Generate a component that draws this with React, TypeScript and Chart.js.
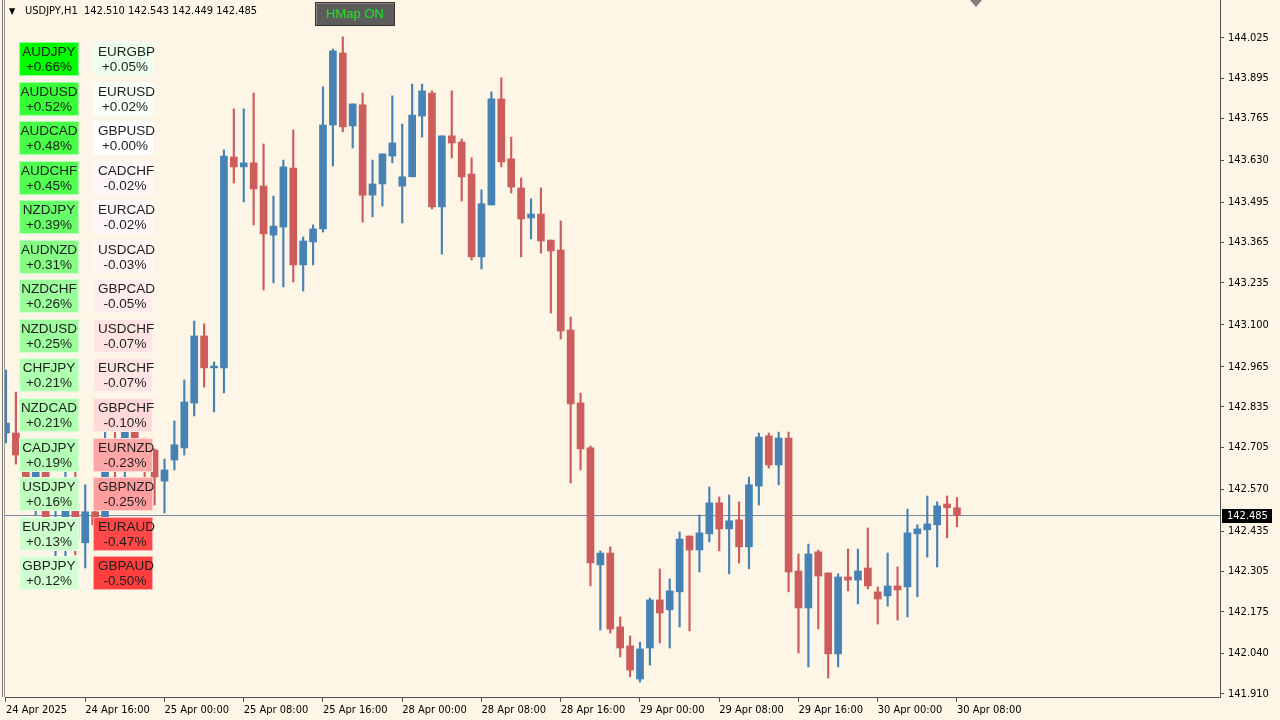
import React, { useEffect, useRef } from "react";
import { Chart, registerables } from "chart.js";

Chart.register(...registerables);

// ---------- data ----------
const symbolTitle = "USDJPY,H1";
const headerOHLC = "142.510 142.543 142.449 142.485";

const timeTickLabels = [
  "24 Apr 2025", "24 Apr 16:00", "25 Apr 00:00", "25 Apr 08:00", "25 Apr 16:00",
  "28 Apr 00:00", "28 Apr 08:00", "28 Apr 16:00", "29 Apr 00:00", "29 Apr 08:00",
  "29 Apr 16:00", "30 Apr 00:00", "30 Apr 08:00",
];
const timeTickBars = [0, 8, 16, 24, 32, 40, 48, 56, 64, 72, 80, 88, 96];

const priceTicks = [
  144.025, 143.895, 143.765, 143.63, 143.495, 143.365, 143.235, 143.1, 142.965,
  142.835, 142.705, 142.57, 142.435, 142.305, 142.175, 142.04, 141.91,
];

const opens = [
  142.751, 142.751, 142.680, 142.606, 142.645, 142.432, 142.439, 142.519, 142.397, 142.497,
  142.455, 142.713, 142.664, 142.777, 142.713, 142.696, 142.596, 142.664, 142.703, 142.848,
  143.064, 142.961, 142.961, 143.641, 143.609, 143.622, 143.547, 143.389, 143.415, 143.605,
  143.293, 143.367, 143.409, 143.744, 143.976, 143.741, 143.809, 143.518, 143.554, 143.644,
  143.547, 143.577, 143.773, 143.847, 143.480, 143.709, 143.689, 143.586, 143.319, 143.486,
  143.828, 143.635, 143.541, 143.444, 143.457, 143.373, 143.341, 143.083, 142.848, 142.703,
  142.326, 142.364, 142.126, 142.065, 141.958, 142.058, 142.213, 142.181, 142.239, 142.419,
  142.374, 142.426, 142.526, 142.442, 142.471, 142.384, 142.580, 142.742, 142.648, 142.735,
  142.306, 142.187, 142.368, 142.300, 142.039, 142.287, 142.277, 142.316, 142.239, 142.226,
  142.258, 142.255, 142.426, 142.439, 142.455, 142.522, 142.510,
];
const highs = [
  142.954, 142.883, 142.696, 142.664, 142.671, 142.510, 142.632, 142.638, 142.584, 142.551,
  142.767, 142.777, 142.809, 142.825, 142.735, 142.700, 142.667, 142.790, 142.922, 143.112,
  143.103, 142.980, 143.664, 143.796, 143.796, 143.847, 143.683, 143.515, 143.631, 143.728,
  143.383, 143.422, 143.867, 143.989, 144.028, 143.812, 143.847, 143.631, 143.651, 143.838,
  143.747, 143.876, 143.876, 143.854, 143.709, 143.854, 143.699, 143.638, 143.535, 143.851,
  143.896, 143.705, 143.573, 143.506, 143.541, 143.373, 143.435, 143.125, 142.880, 142.709,
  142.371, 142.384, 142.158, 142.097, 142.077, 142.219, 142.313, 142.281, 142.432, 142.419,
  142.487, 142.577, 142.545, 142.551, 142.529, 142.609, 142.751, 142.751, 142.754, 142.754,
  142.361, 142.393, 142.374, 142.300, 142.297, 142.377, 142.377, 142.445, 142.255, 142.364,
  142.319, 142.506, 142.455, 142.548, 142.529, 142.548, 142.543,
];
const lows = [
  142.719, 142.651, 142.584, 142.487, 142.445, 142.355, 142.355, 142.358, 142.316, 142.422,
  142.439, 142.606, 142.600, 142.680, 142.606, 142.519, 142.493, 142.632, 142.680, 142.806,
  142.899, 142.819, 142.880, 143.557, 143.496, 143.422, 143.212, 143.235, 143.222, 143.238,
  143.209, 143.293, 143.399, 143.612, 143.722, 143.670, 143.431, 143.448, 143.483, 143.622,
  143.428, 143.577, 143.705, 143.473, 143.328, 143.638, 143.499, 143.309, 143.280, 143.486,
  143.609, 143.525, 143.319, 143.377, 143.331, 143.138, 143.054, 142.590, 142.632, 142.258,
  142.116, 142.106, 142.029, 141.965, 141.948, 142.003, 142.074, 142.058, 142.126, 142.113,
  142.303, 142.400, 142.371, 142.297, 142.332, 142.313, 142.519, 142.638, 142.584, 142.239,
  142.042, 141.997, 142.119, 141.961, 141.997, 142.242, 142.200, 142.248, 142.135, 142.193,
  142.148, 142.158, 142.223, 142.351, 142.319, 142.413, 142.449,
];
const closes = [
  142.783, 142.680, 142.606, 142.645, 142.471, 142.477, 142.519, 142.406, 142.497, 142.455,
  142.713, 142.664, 142.777, 142.713, 142.696, 142.609, 142.632, 142.713, 142.851, 143.064,
  142.961, 142.967, 143.644, 143.609, 143.622, 143.538, 143.393, 143.418, 143.609, 143.293,
  143.370, 143.409, 143.744, 143.983, 143.738, 143.812, 143.518, 143.554, 143.651, 143.686,
  143.577, 143.776, 143.854, 143.480, 143.709, 143.686, 143.577, 143.319, 143.490, 143.828,
  143.625, 143.544, 143.441, 143.457, 143.370, 143.338, 143.080, 142.845, 142.700, 142.332,
  142.364, 142.119, 142.058, 141.987, 142.055, 142.213, 142.171, 142.242, 142.409, 142.374,
  142.429, 142.526, 142.442, 142.468, 142.384, 142.584, 142.738, 142.648, 142.735, 142.303,
  142.187, 142.361, 142.290, 142.039, 142.287, 142.277, 142.306, 142.258, 142.216, 142.258,
  142.245, 142.429, 142.442, 142.458, 142.516, 142.510, 142.485,
];

const heatLeftNames = [
  "AUDJPY", "AUDUSD", "AUDCAD", "AUDCHF", "NZDJPY", "AUDNZD", "NZDCHF",
  "NZDUSD", "CHFJPY", "NZDCAD", "CADJPY", "USDJPY", "EURJPY", "GBPJPY",
];
const heatLeftPct = [0.66, 0.52, 0.48, 0.45, 0.39, 0.31, 0.26, 0.25, 0.21, 0.21, 0.19, 0.16, 0.13, 0.12];
const heatRightNames = [
  "EURGBP", "EURUSD", "GBPUSD", "CADCHF", "EURCAD", "USDCAD", "GBPCAD",
  "USDCHF", "EURCHF", "GBPCHF", "EURNZD", "GBPNZD", "EURAUD", "GBPAUD",
];
const heatRightPct = [0.05, 0.02, 0.0, -0.02, -0.02, -0.03, -0.05, -0.07, -0.07, -0.1, -0.23, -0.25, -0.47, -0.5];

// ---------- styles ----------
const BG = "#FDF5E6";
const UP = "#4682B4";
const DOWN = "#CD5C5C";
const AXIS_COLOR = "#555555";
const AXIS_FONT = "'DejaVu Sans Condensed', 'DejaVu Sans', sans-serif";
const BOX_FONT = "'Liberation Sans', Arial, sans-serif";

const maxAbsPct = Math.max(...heatLeftPct.map(Math.abs), ...heatRightPct.map(Math.abs));

function heatColor(p: number): string {
  const t = Math.min(1, Math.abs(p) / maxAbsPct);
  const c = Math.round(255 * (1 - t));
  return p >= 0 ? `rgb(${c},255,${c})` : `rgb(255,${c},${c})`;
}
function fmtPct(p: number): string {
  return (p < 0 ? "-" : "+") + Math.abs(p).toFixed(2) + "%";
}

const lastPricePlugin = {
  id: "lastPrice",
  afterDraw(chart: any) {
    const last = closes[closes.length - 1];
    const y = Math.round(chart.scales.y.getPixelForValue(last));
    const x0 = chart.chartArea.right + 2;
    const ctx = chart.ctx;
    ctx.save();
    ctx.fillStyle = "#000";
    ctx.fillRect(x0, y - 7, 50, 14);
    ctx.fillStyle = "#fff";
    ctx.font = `11px ${AXIS_FONT}`;
    ctx.textBaseline = "middle";
    ctx.textAlign = "left";
    ctx.fillText(last.toFixed(3), x0 + 5, y + 0.5);
    ctx.restore();
  },
};

export default function App() {
  const canvasRef = useRef<HTMLCanvasElement>(null);

  useEffect(() => {
    const idx = opens.map((_, i) => i);
    const colors = idx.map((i) => (closes[i] >= opens[i] ? UP : DOWN));
    const last = closes[closes.length - 1];
    const tickFont = { family: AXIS_FONT, size: 11 };

    const chart = new Chart(canvasRef.current as HTMLCanvasElement, {
      type: "bar",
      data: {
        datasets: [
          {
            type: "line",
            label: "bid",
            data: [
              { x: -5, y: last },
              { x: 200, y: last },
            ],
            borderColor: "#778899",
            borderWidth: 1,
            pointRadius: 0,
            order: 2,
          } as any,
          {
            label: "wick",
            data: idx.map((i) => ({ x: i, y: [lows[i], highs[i]] })),
            backgroundColor: colors,
            barThickness: 1.5,
            grouped: false,
            order: 1,
          } as any,
          {
            label: "body",
            data: idx.map((i) => ({ x: i, y: [opens[i], closes[i]] })),
            backgroundColor: colors,
            barThickness: 7,
            grouped: false,
            minBarLength: 1,
            order: 0,
          } as any,
        ],
      },
      options: {
        animation: false,
        responsive: false,
        events: [],
        layout: { padding: { left: 5, top: 0, right: 0, bottom: 0 } },
        plugins: {
          legend: { display: false },
          tooltip: { enabled: false },
        },
        scales: {
          x: {
            type: "linear",
            min: -0.1,
            max: 122.55,
            offset: false,
            grid: {
              display: true,
              drawOnChartArea: false,
              drawTicks: true,
              tickLength: 5,
              color: AXIS_COLOR,
              offset: false,
            },
            border: { display: true, color: AXIS_COLOR, width: 1 },
            ticks: {
              autoSkip: false,
              maxRotation: 0,
              minRotation: 0,
              align: "start",
              padding: 2,
              color: "#000",
              font: tickFont,
              callback: (_v: any, i: number) => timeTickLabels[i] ?? "",
            },
            afterBuildTicks: (s: any) => {
              s.ticks = timeTickBars.map((v) => ({ value: v }));
            },
            afterFit: (s: any) => {
              s.height = 23;
              s.paddingLeft = 0;
              s.paddingRight = 0;
            },
          } as any,
          y: {
            type: "linear",
            position: "right",
            min: 141.9,
            max: 144.147,
            grid: {
              display: true,
              drawOnChartArea: false,
              drawTicks: true,
              tickLength: 4,
              color: AXIS_COLOR,
            },
            border: { display: true, color: AXIS_COLOR, width: 1 },
            ticks: {
              autoSkip: false,
              padding: 4,
              color: "#000",
              font: tickFont,
              callback: (v: any) => Number(v).toFixed(3),
            },
            afterBuildTicks: (s: any) => {
              s.ticks = priceTicks.map((v) => ({ value: v }));
            },
            afterFit: (s: any) => {
              s.width = 60;
              s.paddingTop = 0;
              s.paddingBottom = 0;
            },
          } as any,
        },
      },
      plugins: [lastPricePlugin],
    });

    return () => chart.destroy();
  }, []);

  const rowTop = (i: number) => Math.round(42 + i * 39.56);

  const renderBox = (name: string, pct: number, i: number, left: number, shift: number) => (
    <div
      key={name}
      style={{
        position: "absolute",
        left,
        top: rowTop(i),
        width: 60,
        height: 34,
        boxSizing: "border-box",
        background: heatColor(pct),
        border: "1px solid rgba(255,255,255,0.55)",
        fontFamily: BOX_FONT,
        fontSize: 13.5,
        lineHeight: "14.5px",
        color: "#1e1e1e",
        textAlign: "center",
        paddingTop: 2,
        paddingLeft: shift,
        whiteSpace: "nowrap",
        overflow: "visible",
      }}
    >
      <div>{name}</div>
      <div>{fmtPct(pct)}</div>
    </div>
  );

  return (
    <div
      style={{
        position: "fixed",
        left: 0,
        top: 0,
        width: 1280,
        height: 720,
        background: BG,
        overflow: "hidden",
      }}
    >
      <canvas
        ref={canvasRef}
        width={1280}
        height={720}
        style={{ position: "absolute", left: 0, top: 0, width: 1280, height: 720 }}
      />
      {/* left window border */}
      <div style={{ position: "absolute", left: 2, top: 0, width: 1, height: 697, background: "#777" }} />
      <div style={{ position: "absolute", left: 4, top: 0, width: 1, height: 697, background: "#9a9a9a" }} />

      {/* header */}
      <div
        style={{
          position: "absolute",
          left: 9,
          top: 4,
          fontFamily: AXIS_FONT,
          fontSize: 9,
          lineHeight: "14px",
          color: "#000",
        }}
      >
        ▼
      </div>
      <div
        style={{
          position: "absolute",
          left: 25,
          top: 4,
          fontFamily: AXIS_FONT,
          fontSize: 11,
          lineHeight: "14px",
          color: "#000",
          whiteSpace: "pre",
        }}
      >
        {symbolTitle + "  " + headerOHLC}
      </div>

      {/* HMap button */}
      <div
        style={{
          position: "absolute",
          left: 315,
          top: 2,
          width: 80,
          height: 24,
          boxSizing: "border-box",
          background: "#5c5c5c",
          border: "1px solid #333",
          boxShadow: "inset 1px 1px 0 #8a8a8a",
          color: "#22dd22",
          fontFamily: BOX_FONT,
          fontSize: 13,
          lineHeight: "22px",
          textAlign: "center",
        }}
      >
        HMap ON
      </div>

      {/* chart shift marker */}
      <div
        style={{
          position: "absolute",
          left: 970,
          top: 0,
          width: 0,
          height: 0,
          borderLeft: "6px solid transparent",
          borderRight: "6px solid transparent",
          borderTop: "7px solid #808080",
        }}
      />

      {heatLeftNames.map((n, i) => renderBox(n, heatLeftPct[i], i, 19, 0))}
      {heatRightNames.map((n, i) => renderBox(n, heatRightPct[i], i, 93, 4))}
    </div>
  );
}
